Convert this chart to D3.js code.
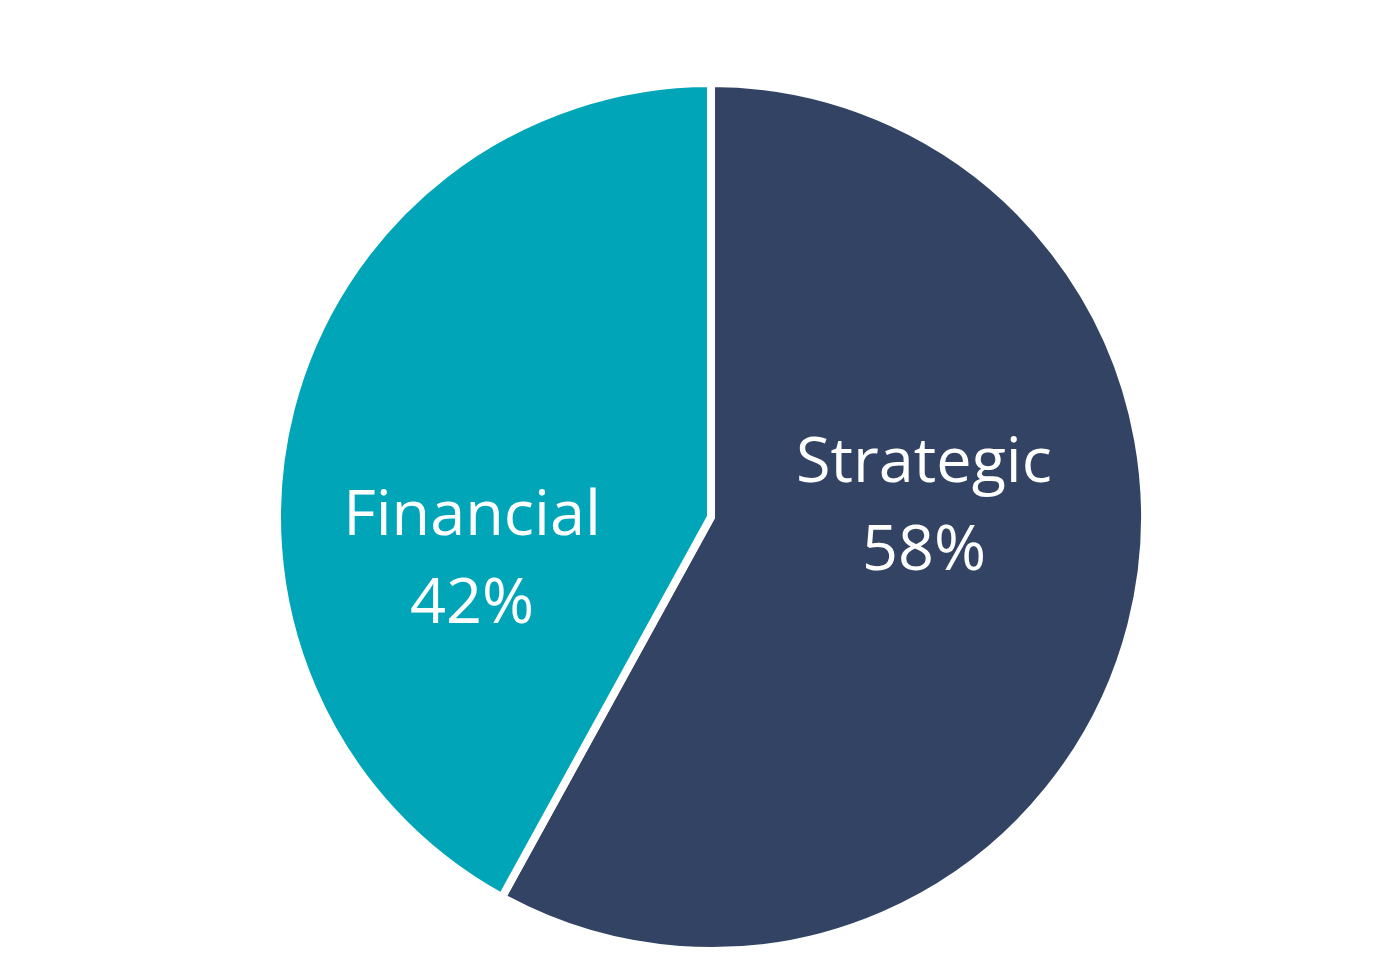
<!DOCTYPE html>
<html>
<head>
<meta charset="utf-8">
<script src="https://cdn.jsdelivr.net/npm/d3@7"></script>
<style>
  html, body { margin: 0; padding: 0; background: #ffffff; }
  svg { display: block; }
</style>
</head>
<body>
<svg width="1400" height="953"></svg>
<script>
// data
const categories = ["Strategic", "Financial"];
const shares = [58, 42];
const colors = ["#334364", "#00A5B8"];

// label placement in pixels from pie centre (Excel puts them here)
const labelOffsets = [[213, -35], [-239, 18]];

const svg = d3.select("svg");
const cx = 711, cy = 517, radius = 434;

const g = svg.append("g").attr("transform", "translate(" + cx + "," + cy + ")");

const pie = d3.pie().sort(null).value(function(d) { return d; });
const arc = d3.arc().innerRadius(0).outerRadius(radius);

const arcs = pie(shares);

g.selectAll("path").data(arcs).enter().append("path")
  .attr("d", arc)
  .attr("fill", function(d, i) { return colors[i]; })
  .attr("stroke", "#ffffff")
  .attr("stroke-width", 8)
  .attr("stroke-linejoin", "miter");

const labels = g.selectAll("text.lbl").data(arcs).enter().append("text")
  .attr("class", "lbl")
  .attr("text-anchor", "middle")
  .attr("fill", "#ffffff")
  .style("font-family", "'Open Sans', sans-serif")
  .style("font-size", "63px")
  .attr("transform", function(d, i) {
    return "translate(" + labelOffsets[i][0] + "," + labelOffsets[i][1] + ")";
  });

labels.append("tspan").attr("x", 0).attr("dy", 0)
  .text(function(d, i) { return categories[i]; });
labels.append("tspan").attr("x", 0).attr("dy", 88)
  .text(function(d, i) { return shares[i] + "%"; });
</script>
</body>
</html>
